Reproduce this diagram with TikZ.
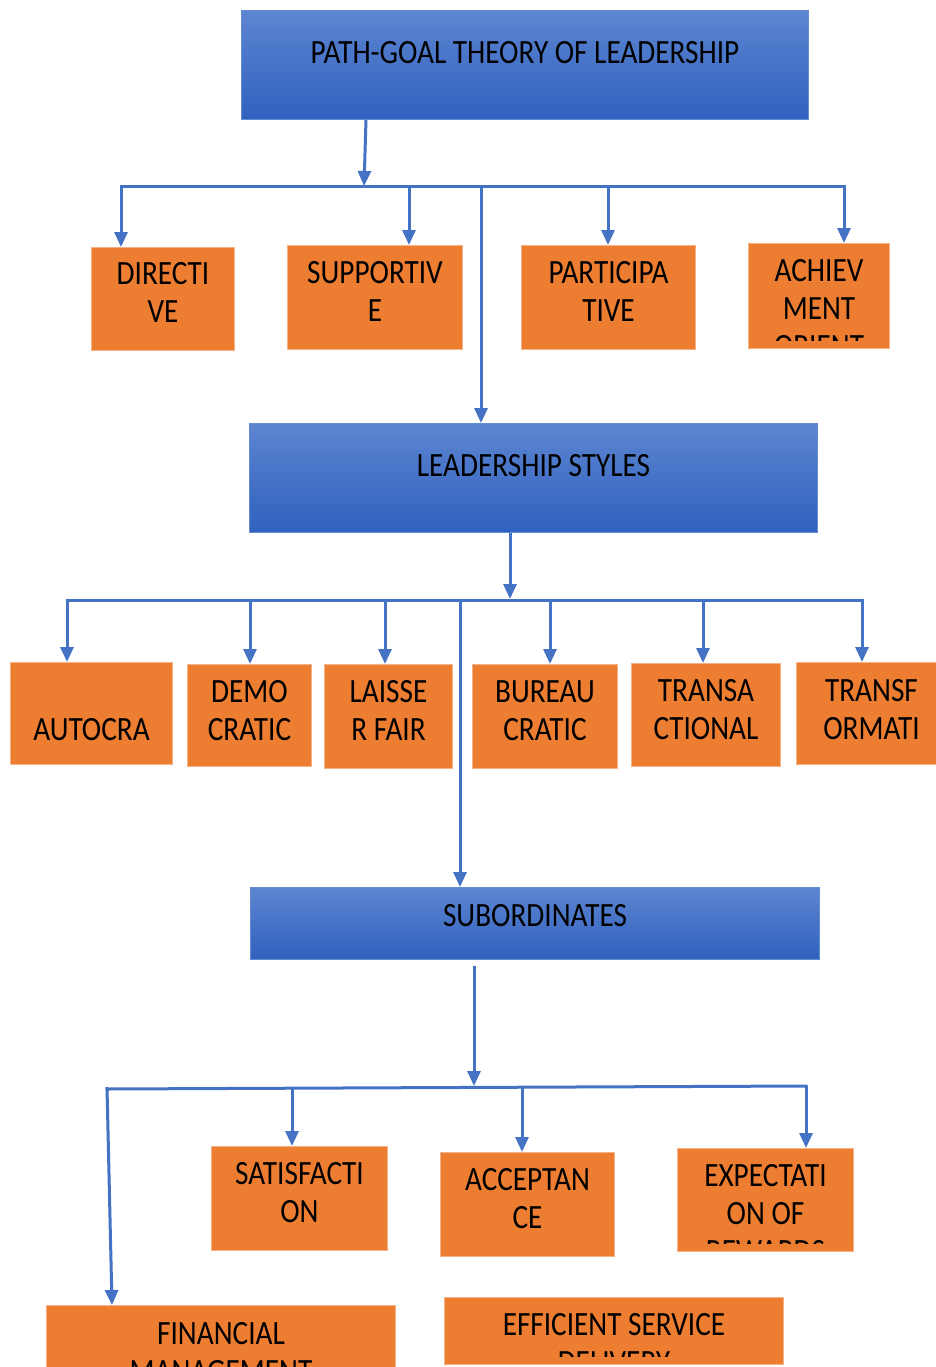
\documentclass[tikz,border=0pt]{standalone}
\usepackage{fontspec}
\setmainfont{Carlito}[FakeStretch=0.86]
\usetikzlibrary{arrows.meta}
\definecolor{boxorange}{RGB}{237,125,49}
\definecolor{boxedge}{RGB}{246,178,134}
\definecolor{boxtop}{RGB}{93,133,209}
\definecolor{boxbot}{RGB}{47,97,190}
\definecolor{boxline}{RGB}{100,140,212}
\definecolor{linkblue}{RGB}{68,114,196}
\tikzset{
  obox/.style={fill=boxorange, draw=boxedge, line width=1pt, anchor=north west, inner sep=0pt},
  bbox/.style={top color=boxtop, bottom color=boxbot, draw=boxline, line width=1pt, anchor=north west, inner sep=0pt},
  btext/.style={font=\fontsize{34}{38}\selectfont, align=center, inner sep=0pt, anchor=north, text=black},
  arrow/.style={draw=linkblue, line width=3pt, -{Triangle[length=15pt,width=13pt]}},
  bus/.style={draw=linkblue, line width=3pt, line cap=rect},
}

\begin{document}
\begin{tikzpicture}[x=1pt,y=-1pt]
  \path[use as bounding box, fill=white] (0,0) rectangle (935,1367);

  % theory and its four behaviours
  \node[bbox, minimum width=567, minimum height=109] (title) at (241,10) {};
  \node[obox, minimum width=143, minimum height=103] (directive) at (91,247) {};
  \node[obox, minimum width=175, minimum height=104] (supportive) at (287,245) {};
  \node[obox, minimum width=174, minimum height=104] (participative) at (521,245) {};
  \node[obox, minimum width=141, minimum height=105] (achievement) at (748,243) {};

  % leadership styles
  \node[bbox, minimum width=568, minimum height=109] (styles) at (249,423) {};
  \node[obox, minimum width=162, minimum height=102] (autocratic) at (10,662) {};
  \node[obox, minimum width=124, minimum height=102] (democratic) at (187,664) {};
  \node[obox, minimum width=128, minimum height=104] (laisser) at (324,664) {};
  \node[obox, minimum width=145, minimum height=104] (bureaucratic) at (472,664) {};
  \node[obox, minimum width=149, minimum height=103] (transactional) at (631,663) {};
  \node[obox, minimum width=150, minimum height=102] (transformational) at (796,662) {};

  % subordinates and outcomes
  \node[bbox, minimum width=569, minimum height=72] (subordinates) at (250,887) {};
  \node[obox, minimum width=176, minimum height=104] (satisfaction) at (211,1146) {};
  \node[obox, minimum width=174, minimum height=104] (acceptance) at (440,1152) {};
  \node[obox, minimum width=176, minimum height=103] (expectation) at (677,1148) {};
  \node[obox, minimum width=349, minimum height=75] (financial) at (46,1305) {};
  \node[obox, minimum width=339, minimum height=67] (efficient) at (444,1297) {};

  % texts, cut at the lower inset of each box
  \foreach \n/\o/\t in {title/31/{PATH-GOAL THEORY OF LEADERSHIP},
      directive/15/{DIRECTI\\VE}, supportive/16/{SUPPORTIV\\E},
      participative/16/{PARTICIPA\\TIVE}, achievement/16/{ACHIEV\\MENT\\ORIENT},
      styles/31/{LEADERSHIP STYLES}, autocratic/56/{AUTOCRA},
      democratic/16/{DEMO\\CRATIC}, laisser/16/{LAISSE\\R FAIR},
      bureaucratic/16/{BUREAU\\CRATIC}, transactional/16/{TRANSA\\CTIONAL},
      transformational/17/{TRANSF\\ORMATI}, subordinates/17/{SUBORDINATES},
      satisfaction/16/{SATISFACTI\\ON}, acceptance/16/{ACCEPTAN\\CE},
      expectation/16/{EXPECTATI\\ON OF\\REWARDS},
      financial/17/{FINANCIAL\\MANAGEMENT}, efficient/16/{EFFICIENT SERVICE\\DELIVERY}}{
    \begin{scope}
      \clip ([yshift=9pt]\n.south west) rectangle (\n.north east);
      \node[btext] (\n-text) at ([yshift=-\o pt]\n.north) {\t};
    \end{scope}
  }

  % first level
  \coordinate (j1) at (364,186);
  \draw[bus] (121,187) -- (844,187);
  \draw[arrow] (title.south -| 366,0) -- (j1);
  \foreach \x/\n in {121/directive, 409/supportive, 608/participative, 844/achievement}
    \draw[arrow] (\x,187) -- (\x,187 |- \n.north);
  \draw[arrow] (481,187) -- (481,187 |- styles.north);

  % second level
  \coordinate (j2) at (510,599);
  \draw[bus] (67,600) -- (862,600);
  \draw[arrow] (styles.south -| j2) -- (j2);
  \foreach \x/\n in {67/autocratic, 250/democratic, 385/laisser, 550/bureaucratic, 703/transactional, 862/transformational}
    \draw[arrow] (\x,600) -- (\x,600 |- \n.north);
  \draw[arrow] (460,600) -- (460,600 |- subordinates.north);

  % third level
  \coordinate (j3) at (474,1086);
  \draw[bus] (107,1089) -- (806,1086);
  \draw[arrow] ([yshift=-6]subordinates.south -| j3) -- (j3);
  \foreach \x/\y/\n in {292/1088/satisfaction, 522/1087/acceptance, 806/1086/expectation}
    \draw[arrow] (\x,\y) -- (\x,\y |- \n.north);
  \draw[arrow] (107,1087) -- (112,1087 |- financial.north);
\end{tikzpicture}
\end{document}
